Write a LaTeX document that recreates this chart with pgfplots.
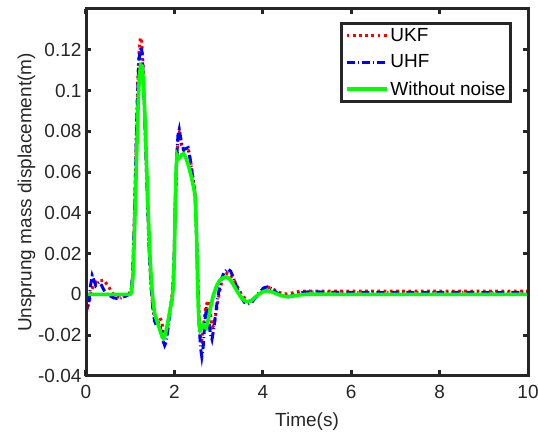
\documentclass[border=0pt]{standalone}
\usepackage{fontspec}
\setmainfont{Liberation Sans}
\usepackage{pgfplots}
\pgfplotsset{compat=1.18}
\definecolor{axgray}{RGB}{38,38,38}
\definecolor{ukf}{RGB}{255,0,0}
\definecolor{uhf}{RGB}{0,0,255}
\definecolor{wn}{RGB}{0,255,0}

\pgfplotstableread{
t y
0 -0.003
0.04 -0.006
0.08 -0.003
0.12 0.002
0.18 0.0045
0.23 0.006
0.29 0.0068
0.35 0.0068
0.41 0.007
0.47 0.005
0.52 0.0035
0.58 0.0012
0.64 -0.0003
0.72 -0.0012
0.80 -0.0015
0.88 -0.0009
0.96 0
1.02 0.002
1.05 0.008
1.08 0.026
1.11 0.052
1.14 0.08
1.17 0.104
1.20 0.119
1.23 0.126
1.26 0.124
1.29 0.113
1.32 0.094
1.35 0.073
1.39 0.046
1.43 0.021
1.47 0.004
1.51 -0.006
1.55 -0.011
1.60 -0.012
1.66 -0.011
1.71 -0.013
1.76 -0.019
1.81 -0.0195
1.86 -0.013
1.91 -0.006
1.95 0
1.99 0.015
2.02 0.043
2.05 0.063
2.08 0.076
2.11 0.079
2.14 0.075
2.18 0.072
2.22 0.0705
2.27 0.071
2.32 0.0705
2.37 0.065
2.42 0.057
2.47 0.049
2.50 0.03
2.53 0.008
2.56 -0.011
2.59 -0.022
2.62 -0.023
2.66 -0.015
2.71 -0.006
2.76 -0.003
2.81 -0.009
2.86 -0.016
2.90 -0.015
2.95 -0.008
3.01 0.0
3.07 0.006
3.13 0.0095
3.20 0.0105
3.27 0.0095
3.35 0.007
3.43 0.0035
3.52 0.0
3.60 -0.002
3.68 -0.0033
3.76 -0.003
3.85 -0.0012
3.95 0.0012
4.05 0.003
4.13 0.0035
4.22 0.0028
4.32 0.0014
4.45 0.0004
4.55 0.0003
4.68 0.0008
4.84 0.0016
5.0 0.0017
5.5 0.0016
6 0.0016
7 0.0016
8 0.0016
9 0.0016
10 0.0016
}\ukfdata

\pgfplotstableread{
t y
0 -0.003
0.03 -0.007
0.07 -0.003
0.10 0.004
0.14 0.0093
0.18 0.007
0.22 0.0044
0.26 0.0055
0.30 0.006
0.35 0.0045
0.41 0.002
0.48 0.0003
0.55 -0.0008
0.62 -0.0016
0.70 -0.002
0.80 -0.0017
0.90 -0.0008
0.98 0
1.02 0.002
1.05 0.008
1.08 0.025
1.11 0.05
1.14 0.077
1.17 0.1
1.20 0.115
1.23 0.1215
1.26 0.12
1.29 0.11
1.32 0.092
1.35 0.072
1.39 0.046
1.43 0.022
1.47 0.005
1.51 -0.006
1.55 -0.013
1.59 -0.015
1.64 -0.014
1.68 -0.016
1.73 -0.022
1.78 -0.025
1.82 -0.023
1.87 -0.014
1.92 -0.006
1.96 0.0
1.99 0.015
2.02 0.045
2.05 0.066
2.08 0.078
2.11 0.081
2.14 0.077
2.17 0.0735
2.21 0.071
2.26 0.0715
2.31 0.072
2.36 0.066
2.42 0.057
2.47 0.049
2.50 0.03
2.53 0.006
2.56 -0.014
2.59 -0.026
2.62 -0.0305
2.65 -0.026
2.69 -0.013
2.73 -0.006
2.77 -0.011
2.81 -0.019
2.85 -0.022
2.89 -0.017
2.94 -0.008
3.00 0.001
3.06 0.0075
3.13 0.011
3.20 0.0125
3.27 0.0115
3.34 0.008
3.42 0.003
3.50 -0.001
3.58 -0.0038
3.66 -0.0047
3.74 -0.0042
3.82 -0.002
3.92 0.001
4.02 0.0032
4.10 0.0037
4.20 0.0028
4.32 0.0008
4.45 -0.0008
4.58 -0.0012
4.72 -0.0002
4.86 0.0008
5.0 0.0012
5.3 0.0012
5.6 0.001
6 0.0009
7 0.0009
8 0.0009
9 0.0009
10 0.0009
}\uhfdata

\pgfplotstableread{
t y
0 0
0.5 0
1.0 0
1.03 0.001
1.06 0.008
1.09 0.025
1.12 0.048
1.15 0.072
1.18 0.094
1.21 0.108
1.24 0.1125
1.27 0.112
1.30 0.104
1.33 0.089
1.36 0.070
1.40 0.045
1.44 0.022
1.48 0.006
1.52 -0.004
1.56 -0.010
1.62 -0.014
1.68 -0.018
1.72 -0.0205
1.75 -0.0215
1.79 -0.020
1.84 -0.015
1.90 -0.008
1.95 -0.002
1.98 0.005
2.00 0.02
2.02 0.045
2.04 0.062
2.06 0.068
2.09 0.0665
2.12 0.067
2.16 0.0685
2.21 0.069
2.26 0.067
2.32 0.063
2.38 0.058
2.44 0.052
2.47 0.048
2.50 0.030
2.52 0.010
2.54 -0.006
2.56 -0.015
2.58 -0.0175
2.61 -0.0165
2.65 -0.015
2.69 -0.016
2.72 -0.0165
2.76 -0.013
2.82 -0.006
2.88 -0.0005
2.95 0.004
3.02 0.0068
3.10 0.0082
3.18 0.0086
3.25 0.0075
3.33 0.005
3.42 0.0015
3.50 -0.0012
3.58 -0.003
3.66 -0.0036
3.74 -0.003
3.82 -0.0015
3.92 0.0003
4.02 0.0015
4.10 0.0018
4.20 0.0013
4.30 0.0004
4.42 -0.0006
4.54 -0.0011
4.68 -0.0008
4.85 -0.0002
5.0 0.0001
5.5 0.0001
6 0
7 0
8 0
9 0
10 0
}\wndata

\begin{document}
\begin{tikzpicture}
\begin{axis}[name=ax,
  scale only axis, width=442pt, height=367pt,
  xmin=0, xmax=10, ymin=-0.04, ymax=0.14,
  xtick={0,2,4,6,8,10},
  xticklabels={0,2,4,6,8,10},
  ytick={-0.04,-0.02,0,0.02,0.04,0.06,0.08,0.1,0.12},
  yticklabels={-0.04,-0.02,0,0.02,0.04,0.06,0.08,0.1,0.12},
  scaled ticks=false,
  tick align=inside, tick pos=both,
  major tick length=5.5pt,
  minor tick num=0,
  axis line style={draw=axgray},
  major tick style={draw=axgray, line width=3pt},
  tick label style={font=\fontsize{19}{22}\selectfont, text=axgray},
  xticklabel style={yshift=-6pt},
  yticklabel style={xshift=-1pt},
  xlabel={Time(s)}, ylabel={Unsprung mass displacement(m)},
  xlabel style={yshift=-7pt},
  ylabel style={yshift=-4pt},
  label style={font=\fontsize{19}{22}\selectfont, text=axgray},
  legend style={draw=axgray, line width=3pt, fill=white,
    at={(0.964,0.965)}, anchor=north east,
    font=\fontsize{19}{22}\selectfont, text=black,
    inner xsep=3pt, inner ysep=3pt, row sep=8pt},
  legend cell align=left,
  legend image code/.code={\draw[#1] plot coordinates {(0pt,0pt) (40pt,0pt)};},
]
\addplot[ukf, line width=3pt, dash pattern=on 2.8pt off 3.4pt] table[x=t,y=y] {\ukfdata};
\addlegendentry{UKF}
\addplot[uhf, line width=3pt, dash pattern=on 8pt off 3pt on 1pt off 3pt] table[x=t,y=y] {\uhfdata};
\addlegendentry{UHF}
\addplot[wn, line width=3.6pt] table[x=t,y=y] {\wndata};
\addlegendentry{Without noise}
\end{axis}
\draw[axgray, line width=3pt] (ax.south west) rectangle (ax.north east);
\pgfresetboundingbox
\path (ax.south west) ++(-86pt,-62pt) coordinate (bl);
\path (ax.north east) ++(10pt,9pt) coordinate (tr);
\path[use as bounding box] (bl) rectangle (tr);
\end{tikzpicture}
\end{document}
